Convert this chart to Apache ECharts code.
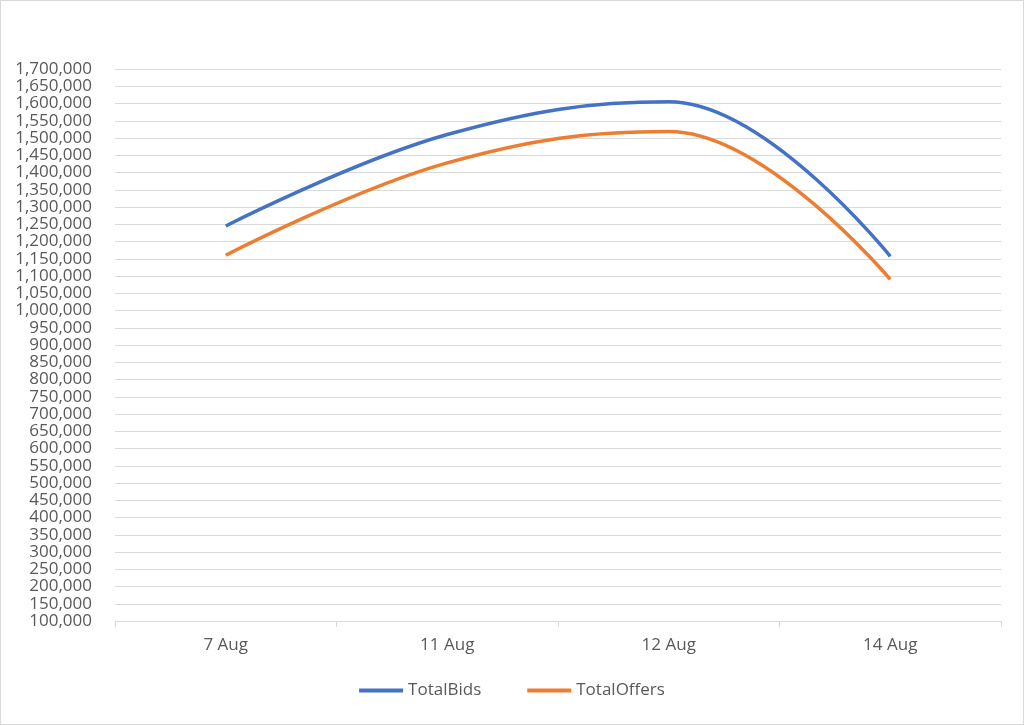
<!DOCTYPE html>
<html>
<head>
<meta charset="utf-8">
<script src="https://cdn.jsdelivr.net/npm/echarts@6/dist/echarts.min.js"></script>
<style>
  html, body { margin: 0; padding: 0; background: #fff; }
  #chart { width: 1022px; height: 723px; border: 1px solid #d9d9d9; }
</style>
</head>
<body>
<div id="chart"></div>
<script>
var days = ['7 Aug', '11 Aug', '12 Aug', '14 Aug'];
var totalBids = [1245000, 1510000, 1605000, 1157000];
var totalOffers = [1160000, 1428000, 1519000, 1090000];

var labelFont = '"Open Sans", sans-serif';

echarts.init(document.getElementById('chart')).setOption({
  animation: false,
  grid: {
    left: 114,
    right: 22,
    top: 68,
    bottom: 103
  },
  legend: {
    bottom: 20,
    left: 'center',
    itemWidth: 44,
    itemHeight: 4,
    itemGap: 46,
    icon: 'rect',
    textStyle: { color: '#595959', fontSize: 17, fontFamily: labelFont },
    data: ['TotalBids', 'TotalOffers']
  },
  xAxis: {
    type: 'category',
    data: days,
    axisLine: { lineStyle: { color: '#d9d9d9' } },
    axisTick: { show: true, length: 6, lineStyle: { color: '#d9d9d9' } },
    axisLabel: { color: '#595959', fontSize: 17, fontFamily: labelFont, margin: 16 }
  },
  yAxis: {
    type: 'value',
    min: 100000,
    max: 1700000,
    interval: 50000,
    axisLine: { show: false },
    axisTick: { show: false },
    splitLine: { lineStyle: { color: '#d9d9d9' } },
    axisLabel: {
      color: '#595959',
      fontSize: 17,
      fontFamily: labelFont,
      margin: 23,
      formatter: function (v) { return v.toLocaleString('en-US'); }
    }
  },
  series: [{
    name: 'TotalBids',
    type: 'line',
    smooth: 0.4,
    showSymbol: false,
    data: totalBids,
    lineStyle: { width: 3.5, color: '#4472C4' },
    itemStyle: { color: '#4472C4' }
  }, {
    name: 'TotalOffers',
    type: 'line',
    smooth: 0.4,
    showSymbol: false,
    data: totalOffers,
    lineStyle: { width: 3.5, color: '#ED7D31' },
    itemStyle: { color: '#ED7D31' }
  }]
});
</script>
</body>
</html>
